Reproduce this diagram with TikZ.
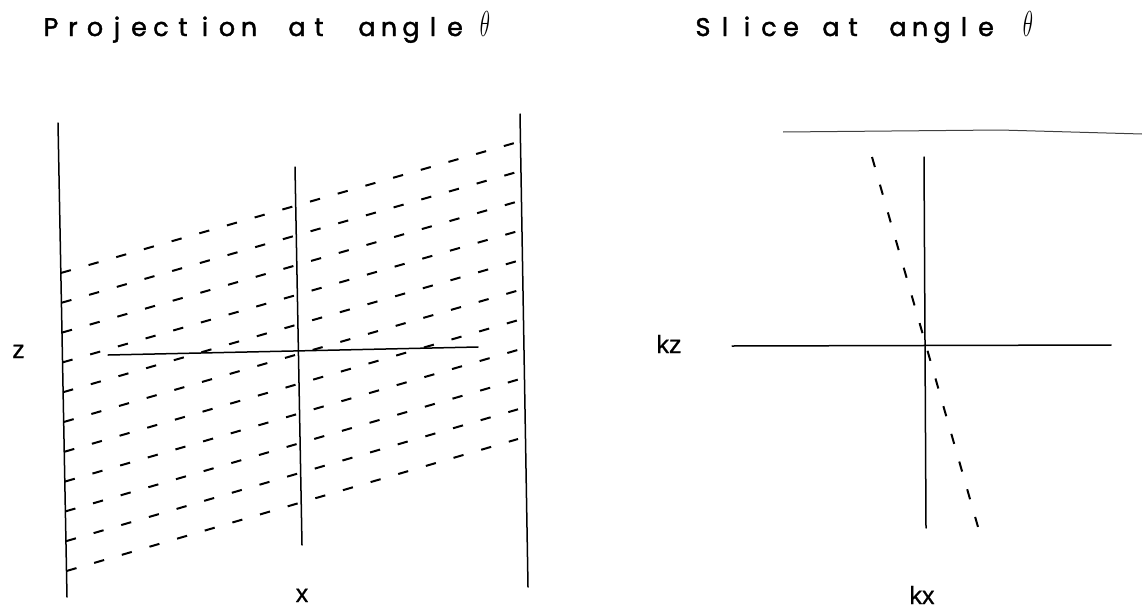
\documentclass[tikz,border=0pt]{standalone}
\usepackage{fontspec}
\usepackage{graphicx}
\setmainfont{Liberation Sans}
\newfontfamily\titlefont[FakeBold=1.6]{Poppins}
\newfontfamily\lblfont[FakeBold=0.8]{Liberation Sans}
\newlength\cellw
\setlength\cellw{22pt}
\def\mycellsA#1{\ifx#1\relax\else\makebox[\cellw][c]{#1}\expandafter\mycellsA\fi}
\def\mycells#1{\mycellsA#1\relax}
\newcommand\bigtheta{\scalebox{0.85}[1.45]{$\theta$}}
\begin{document}
\begin{tikzpicture}[x=1pt,y=-1pt,
  axisline/.style={line width=1.5pt, line cap=round},
  hatch/.style={line width=2pt, dash pattern=on 10.4pt off 18.4pt},
  ttl/.style={font=\titlefont\fontsize{25.5}{28}\selectfont, anchor=base, inner sep=0pt},
  thetalbl/.style={font=\fontsize{24.88}{28}\selectfont, anchor=base, inner sep=0pt},
  lbl/.style={font=\lblfont\fontsize{25}{28}\selectfont, anchor=base, inner sep=0pt}]
\useasboundingbox[fill=white] (0,0) rectangle (1142,613);

% titles
\node[ttl] (t1a) at (150,36) {\mycells{Projection}};
\node[ttl] (t1b) at (308,36) {\mycells{at}};
\node[ttl] (t1c) at (411,36) {\mycells{angle}};
\node[thetalbl] (t1d) at (485,36) {\bigtheta};
\node[ttl] (t2a) at (747,36) {\mycells{Slice}};
\node[ttl] (t2b) at (842,36) {\mycells{at}};
\node[ttl] (t2c) at (942,36) {\mycells{angle}};
\node[thetalbl] (t2d) at (1028,36) {\bigtheta};

% left panel
\coordinate (L1t) at (58,123);  \coordinate (L1b) at (67,597);
\coordinate (L2t) at (520,114); \coordinate (L2b) at (528,587);
\coordinate (Mt) at (295,167);  \coordinate (Mb) at (302,545);
\coordinate (Hl) at (108,355);  \coordinate (Hr) at (478,347);
\draw[axisline] (L1t) -- (L1b);
\draw[axisline] (L2t) -- (L2b);
\draw[axisline] (Mt) -- (Mb);
\draw[axisline] (Hl) -- (Hr);
\foreach \i in {0,...,10}{
  \coordinate (dl\i) at ({58+9*(273+29.8*\i-123)/474},{273+29.8*\i});
  \coordinate (dr\i) at (518,{142+29.7*\i});
  \draw[hatch] (dl\i) -- (dr\i);
}
\node[lbl] (zl) at (18.5,358) {z};
\node[lbl] (xl) at (302,602) {x};

% right panel
\coordinate (Tl) at (783,132); \coordinate (Tm) at (1000,130); \coordinate (Tr) at (1142,134);
\draw[line width=1pt, black!75] (Tl) -- (Tm) -- (Tr);
\coordinate (Vt) at (924,157); \coordinate (Vb) at (926,528);
\coordinate (Kl) at (732,346); \coordinate (Kr) at (1111,345);
\coordinate (Dt) at (872,157); \coordinate (Db) at (978,527);
\draw[axisline] (Vt) -- (Vb);
\draw[axisline] (Kl) -- (Kr);
\draw[hatch] (Dt) -- (Db);
\node[lbl] (kzl) at (669,353) {kz};
\node[lbl] (kxl) at (922,604) {kx};
\end{tikzpicture}
\end{document}
